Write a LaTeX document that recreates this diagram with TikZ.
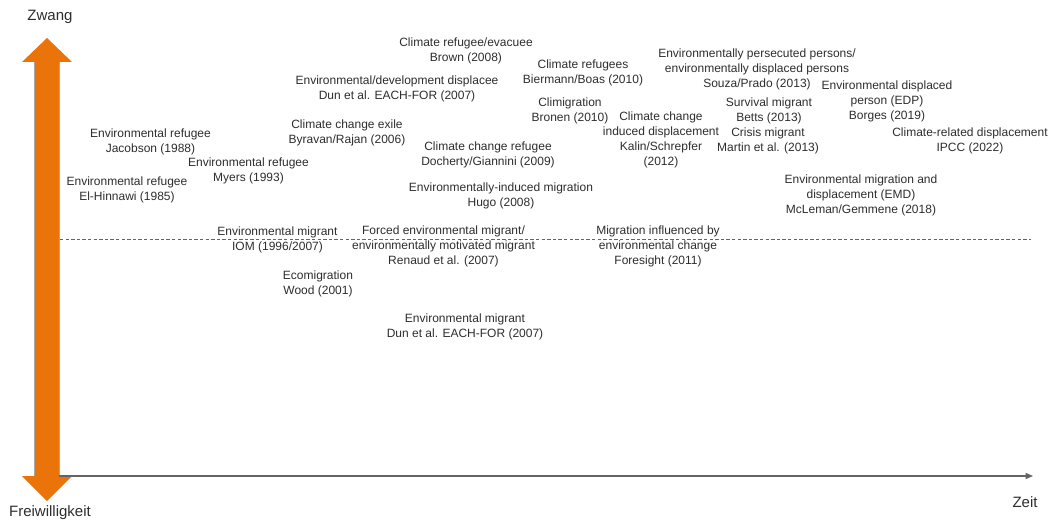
\documentclass[tikz,border=0pt]{standalone}
\usepackage{fontspec}
\setmainfont{Liberation Sans}
\usetikzlibrary{arrows.meta}
\definecolor{txt}{RGB}{45,45,45}
\definecolor{arr}{RGB}{234,116,10}
\definecolor{axc}{RGB}{100,100,100}
\begin{document}
\begin{tikzpicture}[x=0.75pt,y=-0.75pt,
  lbl/.style={text=txt,font=\fontsize{9}{11.25}\selectfont,align=center,inner sep=0pt},
  axlbl/.style={text=txt,font=\fontsize{11.25}{13.5}\selectfont,inner sep=0pt},
  axisline/.style={draw=axc,line width=0.8pt},
  dashline/.style={draw=axc,line width=0.6pt,dash pattern=on 2.6pt off 1.6pt}]
\useasboundingbox (0,0) rectangle (1051,524);
% orange double arrow
\fill[arr] (47,38) -- (72,62) -- (59,62) -- (59,476) -- (72,476) -- (47,501) -- (22,476) -- (34,476) -- (34,62) -- (22,62) -- cycle;
\draw[draw=black!35,line width=0.35pt] (34,62) -- (34,476) (59,62) -- (59,476);
% axes
\coordinate (xs) at (59,476);
\coordinate (xe) at (1033,476);
\draw[axisline,-{Triangle[length=5.5pt,width=4.5pt]}] (xs) -- (xe);
\coordinate (ds) at (60,239.5);
\coordinate (de) at (1031,239.5);
\draw[dashline] (ds) -- (de);
% axis labels
\node[axlbl] (zwang) at (50,17) {Zwang};
\node[axlbl] (frei) at (50,513) {Freiwilligkeit};
\node[axlbl] (zeit) at (1025,502) {Zeit};
% terms
\node[lbl] (brown) at (466,50.5) {Climate refugee/evacuee\\Brown (2008)};
\node[lbl] (dunA) at (397,89) {Environmental/development displacee\\Dun et al. EACH-FOR (2007)};
\node[lbl] (biermann) at (583,72.5) {Climate refugees\\Biermann/Boas (2010)};
\node[lbl] (bronen) at (570,110.5) {Climigration\\Bronen (2010)};
\node[lbl] (kalin) at (661,139.5) {Climate change\\induced displacement\\Kalin/Schrepfer\\(2012)};
\node[lbl] (jacobson) at (150.5,142) {Environmental refugee\\Jacobson (1988)};
\node[lbl] (myers) at (248.5,171) {Environmental refugee\\Myers (1993)};
\node[lbl] (hinnawi) at (127,189.5) {Environmental refugee\\El-Hinnawi (1985)};
\node[lbl] (byravan) at (347,133) {Climate change exile\\Byravan/Rajan (2006)};
\node[lbl] (docherty) at (488,154.5) {Climate change refugee\\Docherty/Giannini (2009)};
\node[lbl] (hugo) at (501,196) {Environmentally-induced migration\\Hugo (2008)};
\node[lbl] (souza) at (757,69.5) {Environmentally persecuted persons/\\environmentally displaced persons\\Souza/Prado (2013)};
\node[lbl] (borges) at (887,101) {Environmental displaced\\person (EDP)\\Borges (2019)};
\node[lbl] (betts) at (769,110.5) {Survival migrant\\Betts (2013)};
\node[lbl] (martin) at (768,141) {Crisis migrant\\Martin et al. (2013)};
\node[lbl] (ipcc) at (970,141) {Climate-related displacement\\IPCC (2022)};
\node[lbl] (mcleman) at (861,195) {Environmental migration and\\displacement (EMD)\\McLeman/Gemmene (2018)};
\node[lbl] (iom) at (277.5,240) {Environmental migrant\\IOM (1996/2007)};
\node[lbl] (renaud) at (443.5,246) {Forced environmental migrant/\\environmentally motivated migrant\\Renaud et al. (2007)};
\node[lbl] (foresight) at (658,246) {Migration influenced by\\environmental change\\Foresight (2011)};
\node[lbl] (wood) at (318,283.5) {Ecomigration\\Wood (2001)};
\node[lbl] (dunB) at (465,326.5) {Environmental migrant\\Dun et al. EACH-FOR (2007)};
\end{tikzpicture}
\end{document}
